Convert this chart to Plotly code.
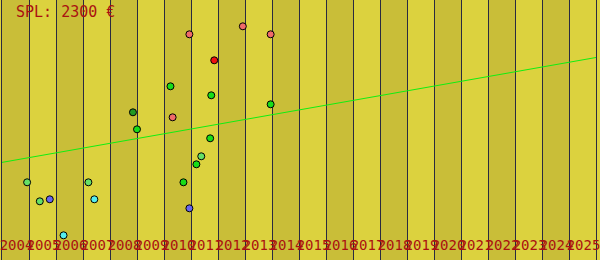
import plotly.graph_objects as go

# ---- data ----
title_text = "SPL: 2300 €"
years = list(range(2004, 2026))          # year stripes / tick labels
tick_labels = [str(y) for y in years]

salmon_x = [2010.94, 2012.92, 2013.95, 2010.32]
salmon_y = [3257, 3337, 3257, 2427]
red_x = [2011.86]
red_y = [2997]
green_x = [2010.24, 2011.75, 2009.00, 2011.71, 2011.20, 2010.72, 2013.95]
green_y = [2737, 2647, 2307, 2217, 1957, 1777, 2557]
darkgreen_x = [2008.85]
darkgreen_y = [2477]
lightgreen_x = [2004.93, 2007.20, 2005.40, 2011.38]
lightgreen_y = [1777, 1777, 1587, 2037]
blue_x = [2005.77, 2010.94]
blue_y = [1607, 1517]
cyan_x = [2007.42, 2006.28]
cyan_y = [1607, 1247]

trend_x = [2004, 2026]
trend_y = [1976, 3025]

# ---- styles ----
DARK = "#c9be38"
LIGHT = "#dcd23e"
GRID = "#2a2a40"
TXT = "#aa1111"

fig = go.Figure()

def pts(x, y, color):
    fig.add_trace(go.Scatter(x=x, y=y, mode="markers",
                             marker=dict(size=7, color=color,
                                         line=dict(color="#000000", width=1)),
                             showlegend=False, hoverinfo="skip"))

fig.add_trace(go.Scatter(x=trend_x, y=trend_y, mode="lines",
                         line=dict(color="#11ee11", width=1),
                         showlegend=False, hoverinfo="skip"))
pts(salmon_x, salmon_y, "#f06a6a")
pts(red_x, red_y, "#ee1111")
pts(green_x, green_y, "#18dd18")
pts(darkgreen_x, darkgreen_y, "#229922")
pts(lightgreen_x, lightgreen_y, "#66e066")
pts(blue_x, blue_y, "#6666ee")
pts(cyan_x, cyan_y, "#55eeee")

shapes = []
for i, yr in enumerate(years):
    if i % 2 == 0:
        shapes.append(dict(type="rect", xref="x", yref="paper", x0=yr, x1=yr + 1,
                           y0=0, y1=1, fillcolor=DARK, line=dict(width=0), layer="below"))

boundaries = years + [years[-1] + 1]

fig.update_layout(
    width=600, height=260,
    margin=dict(l=0, r=0, t=0, b=0),
    paper_bgcolor=LIGHT, plot_bgcolor=LIGHT,
    shapes=shapes,
    annotations=[dict(text=title_text, xref="paper", yref="paper",
                      x=12 / 600, y=1 - 12 / 260, xanchor="left", yanchor="middle",
                      showarrow=False,
                      font=dict(family="DejaVu Sans Mono", size=15, color=TXT))],
)
fig.update_xaxes(range=[2004, 2026], tickvals=[y + 0.5 for y in years],
                 ticktext=tick_labels, tickangle=0, ticks="",
                 ticklabelposition="inside", ticklabeloverflow="allow",
                 ticklabelstandoff=4, ticklabelshift=1,
                 tickfont=dict(family="DejaVu Sans Mono", size=14, color=TXT),
                 showgrid=False, zeroline=False, showline=False,
                 minor=dict(tickvals=boundaries, showgrid=True, gridcolor=GRID,
                            gridwidth=1, ticks=""))
fig.update_yaxes(range=[1000, 3600], showticklabels=False, ticks="",
                 showgrid=False, zeroline=False,
                 showline=True, mirror=True, linecolor=GRID, linewidth=1)

fig.write_html("out.html")
